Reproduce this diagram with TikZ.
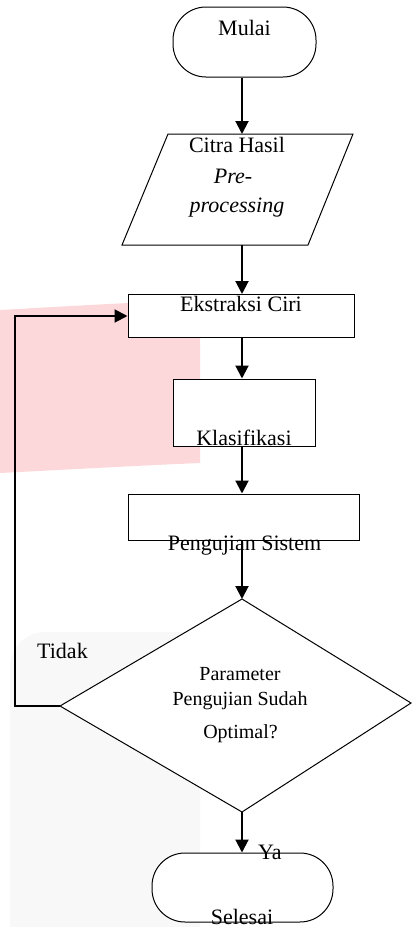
\documentclass[tikz,border=0pt]{standalone}
\usepackage{fontspec}
\setmainfont{Liberation Serif}
\usetikzlibrary{arrows.meta}
\definecolor{wmpink}{RGB}{253,216,218}
\definecolor{wmgray}{RGB}{248,248,248}
\begin{document}
\begin{tikzpicture}[x=1pt,y=-1pt,
  box/.style={draw, line width=1pt, fill=white, inner sep=0pt},
  term/.style={box, rounded corners=33pt},
  arr/.style={line width=2pt, -{Triangle[length=13pt,width=13pt]}},
  txt/.style={font=\fontsize{22}{30}\selectfont, anchor=base, inner sep=0pt},
  dtxt/.style={font=\fontsize{20}{24}\selectfont, anchor=base, inner sep=0pt}]
\useasboundingbox (0,0) rectangle (412,927);
% background watermark shapes
\fill[wmpink] (0,310) .. controls (70,306) and (140,302) .. (200,300) -- (200,463) .. controls (130,466) and (60,470) .. (0,473) -- cycle;
\fill[wmgray] (10,927) [rounded corners=35pt] -- (10,632) [sharp corners] -- (200,632) -- (200,927) -- cycle;
% helper coordinates
\coordinate (axis) at (242,0);
\coordinate (loop) at (15,316);
% terminals and process boxes
\node[term, minimum width=143pt, minimum height=70pt] (mulai) at (244.5,42) {};
\node[box, minimum width=226pt, minimum height=43pt] (ekstraksi) at (241,316) {};
\node[box, minimum width=142pt, minimum height=67pt] (klasifikasi) at (244,412.5) {};
\node[box, minimum width=231pt, minimum height=46pt] (pengujian) at (243.5,517) {};
\node[term, minimum width=181pt, minimum height=69pt] (selesai) at (242.5,887.5) {};
% input parallelogram
\coordinate (inTop) at (242,134);
\coordinate (inBot) at (242,245);
\draw[line width=1pt, fill=white] (168,134) -- (353,134) -- (308,245) -- (122,245) -- cycle;
% decision diamond
\coordinate (dTop) at (242,599);
\coordinate (dRight) at (411,703);
\coordinate (dBot) at (242,812);
\coordinate (dLeft) at (60,706);
\draw[line width=1pt, fill=white] (dTop) -- (dRight) -- (dBot) -- (dLeft) -- cycle;
% texts
\node[txt] (tmulai) at (244.5,35) {Mulai};
\node[txt] (tcitra) at (237,152) {Citra Hasil};
\node[txt, font=\fontsize{22}{30}\selectfont\itshape] (tpre) at (233,183) {Pre-};
\node[txt, font=\fontsize{22}{30}\selectfont\itshape] (tproc) at (237,212) {processing};
\node[txt] (tekstraksi) at (241,311) {Ekstraksi Ciri};
\node[txt] (tklasifikasi) at (244,445) {Klasifikasi};
\node[txt] (tpengujian) at (244.5,550) {Pengujian Sistem};
\node[dtxt] (tparam) at (240,680) {Parameter};
\node[dtxt] (tpsudah) at (240,705) {Pengujian Sudah};
\node[dtxt] (toptimal) at (240.5,738) {Optimal?};
\node[txt, anchor=base west] (ttidak) at (37,658) {Tidak};
\node[txt, anchor=base west] (tya) at (258,859) {Ya};
\node[txt] (tselesai) at (242,924) {Selesai};
% connectors
\draw[arr] (mulai.south -| axis) -- (inTop);
\draw[arr] (inBot) -- (ekstraksi.north -| axis);
\draw[arr] (ekstraksi.south -| axis) -- (klasifikasi.north -| axis);
\draw[arr] (klasifikasi.south -| axis) -- (pengujian.north -| axis);
\draw[arr] (pengujian.south -| axis) -- (dTop);
\draw[arr] (dBot) -- (selesai.north -| axis);
\draw[arr] (dLeft) -| (loop) -- (loop -| ekstraksi.west);
\end{tikzpicture}
\end{document}
